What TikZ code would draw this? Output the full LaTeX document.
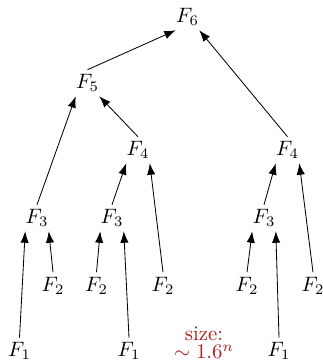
\documentclass[tikz,border=0pt]{standalone}
\usepackage{amsmath,amssymb}
\usetikzlibrary{arrows.meta}
\definecolor{sizered}{RGB}{170,30,30}

\begin{document}
\begin{tikzpicture}[x=0.48pt,y=-0.48pt,>={Latex[length=5.5pt,width=4pt]},every node/.style={inner xsep=0pt,inner ysep=2pt}]
\useasboundingbox (0,0) rectangle (322,360);
\node (f6) at (187.5,17) {$F_6$};
\node (f5) at (87.5,83) {$F_5$};
\node (f4a) at (138,150) {$F_4$};
\node (f4b) at (287.5,150) {$F_4$};
\node (f3a) at (37,218) {$F_3$};
\node (f3b) at (112,218) {$F_3$};
\node (f3c) at (264,218) {$F_3$};
\node (f2a) at (53,285.5) {$F_2$};
\node (f2b) at (96.5,285.5) {$F_2$};
\node (f2c) at (163,285.5) {$F_2$};
\node (f2d) at (247,285.5) {$F_2$};
\node (f2e) at (313,285.5) {$F_2$};
\node (f1a) at (19.5,351) {$F_1$};
\node (f1b) at (129,351) {$F_1$};
\node (f1c) at (279,351) {$F_1$};
\draw[->] (f5.north) -- (f6.south west);
\draw[->] (f4b.north) -- (f6.south east);
\draw[->] (f3a.north) -- (f5.south west);
\draw[->] (f4a.north) -- (f5.south east);
\draw[->] (f3b.north) -- (f4a.south west);
\draw[->] (f2c.north) -- (f4a.south east);
\draw[->] (f3c.north) -- (f4b.south west);
\draw[->] (f2e.north) -- (f4b.south east);
\draw[->] (f1a.north) -- (f3a.south west);
\draw[->] (f2a.north) -- (f3a.south east);
\draw[->] (f2b.north) -- (f3b.south west);
\draw[->] (f1b.north) -- (f3b.south east);
\draw[->] (f2d.north) -- (f3c.south west);
\draw[->] (f1c.north) -- (f3c.south east);
\node[sizered,align=center,inner sep=0pt] (size) at (204,343) {size:\\[-3.5pt]$\sim 1.6^n$};
\end{tikzpicture}
\end{document}
